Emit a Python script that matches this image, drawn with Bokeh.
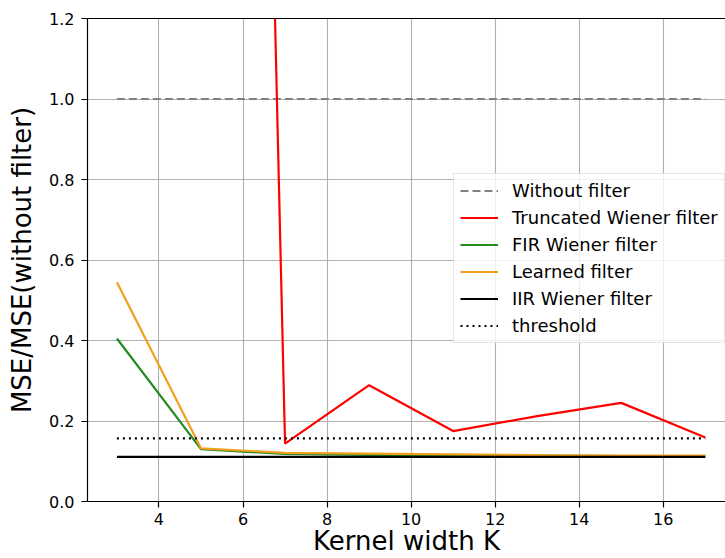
from bokeh.plotting import figure
from bokeh.models import Range1d, FixedTicker, LinearAxis, Legend, LegendItem, PrintfTickFormatter
from bokeh.embed import file_html
from bokeh.resources import INLINE

# ---- data ----
kernel_width = [3, 5, 7, 9, 11, 13, 15, 17]
without_filter = [1.0, 1.0, 1.0, 1.0, 1.0, 1.0, 1.0, 1.0]
truncated_wiener = [25.0, 9.0, 0.144, 0.289, 0.175, 0.212, 0.245, 0.159]
fir_wiener = [0.405, 0.130, 0.118, 0.116, 0.115, 0.114, 0.113, 0.113]
learned_filter = [0.545, 0.132, 0.121, 0.119, 0.117, 0.115, 0.114, 0.114]
iir_wiener = [0.111, 0.111, 0.111, 0.111, 0.111, 0.111, 0.111, 0.111]
threshold = [0.157, 0.157, 0.157, 0.157, 0.157, 0.157, 0.157, 0.157]

x_ticks = [4, 6, 8, 10, 12, 14, 16]
y_ticks = [0.0, 0.2, 0.4, 0.6, 0.8, 1.0, 1.2]

FONT = "DejaVu Sans"

p = figure(width=725, height=558,
           x_range=Range1d(2.3, 17.48), y_range=Range1d(0, 1.2),
           output_backend="svg", toolbar_location=None,
           min_border_left=87, min_border_right=0,
           min_border_top=18, min_border_bottom=57)
p.outline_line_color = None
p.background_fill_color = "white"
p.border_fill_color = "white"

xax = p.below[0]
yax = p.left[0]

xax.ticker = FixedTicker(ticks=x_ticks)
yax.ticker = FixedTicker(ticks=y_ticks)
yax.formatter = PrintfTickFormatter(format="%.1f")

for ax in (xax, yax):
    ax.axis_line_color = "black"
    ax.axis_line_width = 1.2
    ax.major_tick_line_color = "black"
    ax.major_tick_line_width = 1.2
    ax.major_tick_out = 6
    ax.major_tick_in = 0
    ax.minor_tick_line_color = None
    ax.major_label_text_font = FONT
    ax.major_label_text_font_size = "16px"
    ax.major_label_text_color = "black"
    ax.axis_label_text_font = FONT
    ax.axis_label_text_font_size = "26px"
    ax.axis_label_text_font_style = "normal"
    ax.axis_label_text_color = "black"

xax.major_label_standoff = 5
yax.major_label_standoff = 7

yax.axis_label = "MSE/MSE(without filter)"
yax.axis_label_standoff = 9
xax.axis_label = "Kernel width K"
xax.axis_label_standoff = -2
xax.axis_label_text_line_height = 0.8

# top spine (no ticks, no labels)
top_axis = LinearAxis(ticker=FixedTicker(ticks=[]), major_tick_out=0, major_tick_in=0,
                      major_label_standoff=0, minor_tick_line_color=None,
                      major_tick_line_color=None,
                      axis_line_color="black", axis_line_width=1.2)
p.add_layout(top_axis, "above")

p.xgrid.grid_line_color = "#b0b0b0"
p.ygrid.grid_line_color = "#b0b0b0"
p.xgrid.grid_line_width = 1.1
p.ygrid.grid_line_width = 1.1

LW = 2.2
r1 = p.line(kernel_width, without_filter, line_color="gray", line_width=LW, line_dash="8 4")
r2 = p.line(kernel_width, truncated_wiener, line_color="red", line_width=LW)
r3 = p.line(kernel_width, fir_wiener, line_color="forestgreen", line_width=LW)
r4 = p.line(kernel_width, learned_filter, line_color="#f0a01e", line_width=LW)
r5 = p.line(kernel_width, iir_wiener, line_color="black", line_width=LW)
r6 = p.line(kernel_width, threshold, line_color="black", line_width=LW, line_dash="2 4")

legend = Legend(items=[
    LegendItem(label="Without filter", renderers=[r1]),
    LegendItem(label="Truncated Wiener filter", renderers=[r2]),
    LegendItem(label="FIR Wiener filter", renderers=[r3]),
    LegendItem(label="Learned filter", renderers=[r4]),
    LegendItem(label="IIR Wiener filter", renderers=[r5]),
    LegendItem(label="threshold", renderers=[r6]),
], location=(366, 158))
legend.label_text_font = FONT
legend.label_text_font_size = "18px"
legend.label_text_color = "black"
legend.glyph_width = 38
legend.glyph_height = 21
legend.label_height = 21
legend.label_standoff = 14
legend.spacing = 6
legend.padding = 6
legend.margin = 0
legend.border_line_color = "#cccccc"
legend.border_line_width = 1
legend.background_fill_color = "white"
legend.background_fill_alpha = 0.8
p.add_layout(legend)

open("out.html", "w").write(file_html(p, INLINE))
